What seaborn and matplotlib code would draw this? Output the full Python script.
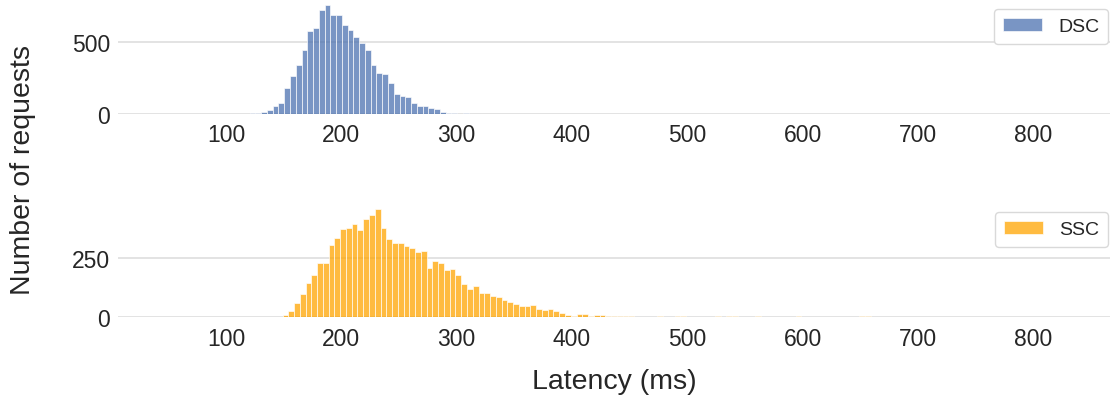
import numpy as np
import pandas as pd
import matplotlib
matplotlib.use("Agg")
import matplotlib.pyplot as plt
import seaborn as sns

# Latency histograms (5 ms bins) for the two request paths
bin_width = 5.0

dsc_start = 120.5
dsc_counts = [2, 5, 10, 25, 51, 76, 176, 259, 340, 444, 574, 592, 717, 750,
              682, 682, 615, 581, 530, 493, 444, 340, 280, 273, 213, 139, 125,
              113, 76, 53, 53, 37, 30, 14, 5, 5, 0, 3]

ssc_start = 144.0
ssc_counts = [3, 11, 27, 61, 98, 145, 179, 230, 230, 307, 338, 375, 381, 396,
              372, 416, 436, 462, 379, 334,
              317, 314, 304, 293, 277, 283, 210, 241, 231, 202, 204, 180, 141,
              122, 133,
              105, 105, 92, 87, 72, 65, 57, 48, 48, 53, 36, 31, 34, 28, 18, 10,
              7, 13, 13, 6, 9, 10, 6, 4, 4, 6, 6,
              0, 3, 3, 0, 6, 0, 0, 6, 4, 3, 3, 0, 0, 3, 6, 0, 4, 4, 2, 0, 0, 6,
              2, 2, 0, 0, 0, 0, 5,
              0, 0, 0, 0, 0, 2, 2, 0, 0, 2, 4, 4, 2, 0, 2,
              0, 0, 0, 0, 0, 0, 1, 0, 0, 0, 0, 0, 1]

series_names = ["DSC", "SSC"]
series_colors = ["#4c72b0", "orange"]
x_ticks = [100, 200, 300, 400, 500, 600, 700, 800]
y_ticks = [[0, 500], [0, 250]]
y_limits = [787.5, 485]


def binned_frame(start, counts):
    counts = np.asarray(counts, dtype=float)
    edges = start + bin_width * np.arange(len(counts) + 1)
    centers = (edges[:-1] + edges[1:]) / 2
    return pd.DataFrame({"latency": centers, "count": counts}), edges.tolist()


sns.set_theme(style="whitegrid")
plt.rcParams["font.family"] = ["Liberation Sans", "DejaVu Sans"]

fig = plt.figure(figsize=(11.12, 4.02), dpi=100)
ax_left, ax_width = 0.1061, 0.892
axes = [fig.add_axes([ax_left, 0.715, ax_width, 0.2823]),
        fig.add_axes([ax_left, 0.208, ax_width, 0.2843])]

frames = [binned_frame(dsc_start, dsc_counts), binned_frame(ssc_start, ssc_counts)]

for ax, (df, edges), name, color, yt, ytop in zip(axes, frames, series_names,
                                                  series_colors, y_ticks, y_limits):
    sns.histplot(data=df, x="latency", weights="count", bins=edges,
                 color=color, alpha=0.75, edgecolor="white", linewidth=0.45,
                 label=name, ax=ax)
    ax.set_xlim(6.3, 866.6)
    ax.set_ylim(0, ytop)
    ax.set_xticks(x_ticks)
    ax.set_yticks(yt)
    ax.tick_params(axis="x", labelsize=16.5, colors=".15", length=0, pad=7)
    ax.tick_params(axis="y", labelsize=16.5, colors=".15", length=0, pad=5.5)
    ax.grid(axis="x", visible=False)
    ax.grid(axis="y", color=".86", linewidth=1.1)
    ax.set_ylabel("")
    ax.set_xlabel("")
    for s in ax.spines.values():
        s.set_visible(False)
    leg = ax.legend(loc="upper right", bbox_to_anchor=(0.998, 0.921),
                    borderaxespad=0, fontsize=14, handlelength=2.0,
                    handletextpad=0.85, borderpad=0.45,
                    frameon=True, framealpha=1)
    leg.get_frame().set_edgecolor(".85")

axes[1].set_xlabel("Latency (ms)", fontsize=20.5, color=".15", labelpad=13)
fig.text(23 / 1112, 1 - 170 / 402, "Number of requests", rotation=90,
         fontsize=20.5, color=".15", ha="center", va="center")

fig.savefig("out.png", dpi=100)
